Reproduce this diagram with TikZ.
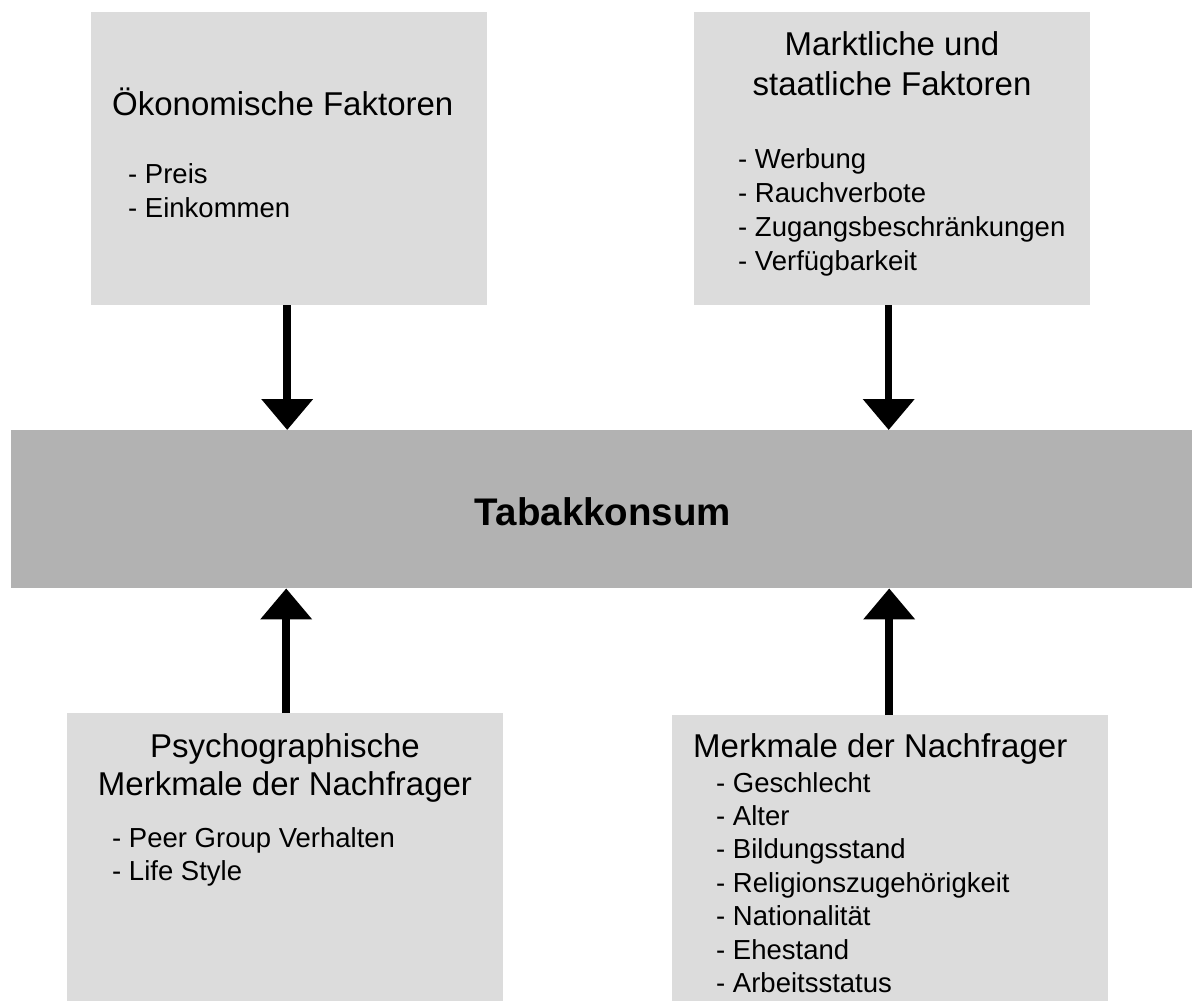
\documentclass[tikz,border=0pt]{standalone}
\usepackage{fontspec}
\setmainfont{Liberation Sans}
\usetikzlibrary{arrows.meta}
\definecolor{boxgray}{HTML}{DCDCDC}
\definecolor{bargray}{HTML}{B2B2B2}
\tikzset{
  lbox/.style={fill=boxgray, draw=none, rectangle, anchor=north west, inner sep=0pt},
  cbar/.style={fill=bargray, draw=none, rectangle, anchor=north west, inner sep=0pt},
  ttl/.style={inner sep=0pt, anchor=base west, font=\fontsize{33pt}{40pt}\selectfont},
  ttlc/.style={inner sep=0pt, anchor=base, font=\fontsize{33pt}{40pt}\selectfont},
  itm/.style={inner sep=0pt, anchor=base west, font=\fontsize{27.5pt}{34pt}\selectfont},
  arr/.style={line width=7.5pt, -{Triangle[width=50pt,length=31pt]}},
}
\begin{document}
\begin{tikzpicture}[x=1pt,y=-1pt]
\useasboundingbox (0,0) rectangle (1192,1001);
% boxes
\node[lbox, minimum width=396pt, minimum height=293pt] (tl) at (91,12) {};
\node[lbox, minimum width=396pt, minimum height=293pt] (tr) at (694,12) {};
\node[cbar, minimum width=1181pt, minimum height=158pt] (bar) at (11,430) {};
\node[lbox, minimum width=436pt, minimum height=288pt] (bl) at (67,713) {};
\node[lbox, minimum width=436pt, minimum height=286pt] (br) at (672,715) {};
% central label
\node[inner sep=0pt, anchor=base, font=\fontsize{38.5pt}{46pt}\selectfont\bfseries] (tk) at (603,525) {Tabakkonsum};
% top-left texts
\node[ttl] (tlt) at (112,115) {Ökonomische Faktoren};
\node[itm] (tl1) at (128,183) {- Preis};
\node[itm] (tl2) at (128,217) {- Einkommen};
% top-right texts
\node[ttlc] (trt1) at (892,55) {Marktliche und};
\node[ttlc] (trt2) at (892,95) {staatliche Faktoren};
\node[itm] (tr1) at (738,168) {- Werbung};
\node[itm] (tr2) at (738,202) {- Rauchverbote};
\node[itm] (tr3) at (738,236) {- Zugangsbeschränkungen};
\node[itm] (tr4) at (738,270) {- Verfügbarkeit};
% bottom-left texts
\node[ttlc] (blt1) at (285,757) {Psychographische};
\node[ttlc] (blt2) at (285,795) {Merkmale der Nachfrager};
\node[itm] (bl1) at (112,847) {- Peer Group Verhalten};
\node[itm] (bl2) at (112,880) {- Life Style};
% bottom-right texts
\node[ttl] (brt) at (693,757) {Merkmale der Nachfrager};
\node[itm] (br1) at (716,792) {- Geschlecht};
\node[itm] (br2) at (716,825) {- Alter};
\node[itm] (br3) at (716,858) {- Bildungsstand};
\node[itm] (br4) at (716,892) {- Religionszugehörigkeit};
\node[itm] (br5) at (716,925) {- Nationalität};
\node[itm] (br6) at (716,959) {- Ehestand};
\node[itm] (br7) at (716,992) {- Arbeitsstatus};
% arrows
\draw[arr] ([xshift=-2pt]tl.south) -- ([xshift=-2pt]tl.south |- bar.north);
\draw[arr] ([xshift=-3.5pt]tr.south) -- ([xshift=-3.5pt]tr.south |- bar.north);
\draw[arr] ([xshift=1pt]bl.north) -- ([xshift=1pt]bl.north |- bar.south);
\draw[arr] ([xshift=-1pt]br.north) -- ([xshift=-1pt]br.north |- bar.south);
\end{tikzpicture}
\end{document}
